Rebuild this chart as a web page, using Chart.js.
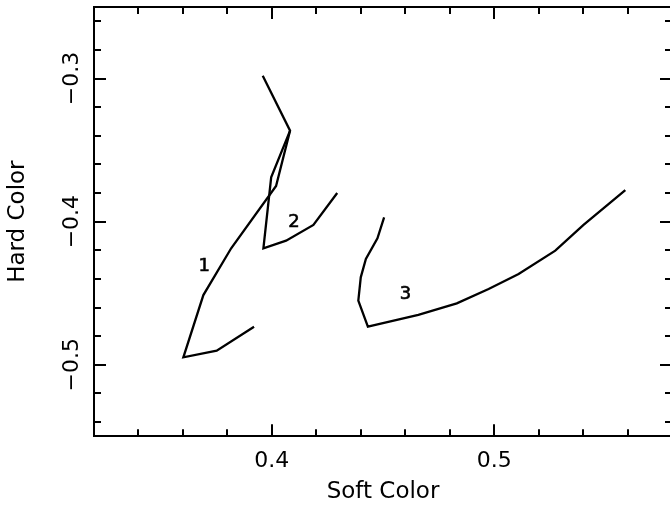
<!DOCTYPE html>
<html>
<head>
<meta charset="utf-8">
<script src="https://cdn.jsdelivr.net/npm/chart.js@4"></script>
<style>
  html, body { margin: 0; padding: 0; overflow: hidden; background: #fff; }
  #wrap { position: relative; width: 676px; height: 506px; }
</style>
</head>
<body>
<div id="wrap"><canvas id="c"></canvas></div>
<script>
// ---- axis texts and ticks ----
const xTitle = 'Soft Color';
const yTitle = 'Hard Color';
const xRange = [0.32, 0.58];
const yRange = [-0.55, -0.25];
const xMajorTicks = [0.4, 0.5];
const xMajorLabels = ['0.4', '0.5'];
const yMajorTicks = [-0.5, -0.4, -0.3];
const yMajorLabels = ['\u22120.5', '\u22120.4', '\u22120.3'];
const xMinorTicks = [0.34, 0.36, 0.38, 0.42, 0.44, 0.46, 0.48, 0.52, 0.54, 0.56];
const yMinorTicks = [-0.54, -0.52, -0.48, -0.46, -0.44, -0.42, -0.38, -0.36, -0.34, -0.32, -0.28, -0.26];

// ---- tracks (Soft Color, Hard Color) ----
const track1X = [0.3920, 0.3752, 0.3602, 0.3692, 0.3817, 0.4019, 0.4082, 0.3959];
const track1Y = [-0.4734, -0.4902, -0.4948, -0.4513, -0.4186, -0.3751, -0.3364, -0.2980];
const track2X = [0.4082, 0.3997, 0.3962, 0.4064, 0.4187, 0.4294];
const track2Y = [-0.3364, -0.3690, -0.4186, -0.4133, -0.4023, -0.3800];
const track3X = [0.4505, 0.4475, 0.4423, 0.4400, 0.4389, 0.4432, 0.4659, 0.4832, 0.4975, 0.5110, 0.5275, 0.5402, 0.5590];
const track3Y = [-0.3970, -0.4116, -0.4261, -0.4389, -0.4552, -0.4734, -0.4652, -0.4571, -0.4471, -0.4366, -0.4203, -0.4023, -0.3779];

// ---- track labels ----
const trackNames = ['1', '2', '3'];
const trackLabelX = [0.3696, 0.4100, 0.4601];
const trackLabelY = [-0.4310, -0.4007, -0.4508];

const FONT = '"DejaVu Sans", "Liberation Sans", sans-serif';
Chart.defaults.font.family = FONT;
Chart.defaults.color = '#000';

const pts = (xs, ys) => xs.map((v, i) => ({ x: v, y: ys[i] }));
const setTicks = vals => s => { s.ticks = vals.map(v => ({ value: v })); };
const fix = (w, h) => s => {
  if (w !== null) s.width = w;
  if (h !== null) s.height = h;
  s.paddingTop = 0; s.paddingBottom = 0; s.paddingLeft = 0; s.paddingRight = 0;
};

const gridMajor = { drawOnChartArea: false, drawTicks: true, tickLength: -12, color: '#000', lineWidth: 2, tickWidth: 2 };
const gridMinor = { drawOnChartArea: false, drawTicks: true, tickLength: -7, color: '#000', lineWidth: 2, tickWidth: 2 };
const borderOn = { display: true, width: 2, color: '#000' };
const borderOff = { display: false };

const lineDs = (data) => ({
  data, showLine: true, borderColor: '#000', borderWidth: 2.3, pointRadius: 0,
  pointHoverRadius: 0, fill: false, tension: 0, xAxisID: 'x', yAxisID: 'y'
});

const trackLabels = {
  id: 'trackLabels',
  afterDatasetsDraw(chart) {
    const { ctx } = chart;
    const xs = chart.scales.x, ys = chart.scales.y;
    ctx.save();
    ctx.font = '18px ' + FONT;
    ctx.fillStyle = '#000';
    ctx.strokeStyle = '#000';
    ctx.lineWidth = 0.6;
    ctx.textAlign = 'center';
    ctx.textBaseline = 'middle';
    trackNames.forEach((t, i) => {
      const px = xs.getPixelForValue(trackLabelX[i]);
      const py = ys.getPixelForValue(trackLabelY[i]);
      ctx.fillText(t, px, py);
      ctx.strokeText(t, px, py);
    });
    ctx.restore();
  }
};

new Chart(document.getElementById('c'), {
  type: 'scatter',
  data: {
    datasets: [
      lineDs(pts(track1X, track1Y)),
      lineDs(pts(track2X, track2Y)),
      lineDs(pts(track3X, track3Y))
    ]
  },
  options: {
    responsive: true,
    maintainAspectRatio: false,
    animation: false,
    layout: { padding: 0 },
    plugins: { legend: { display: false }, tooltip: { enabled: false } },
    scales: {
      x: {
        type: 'linear', axis: 'x', position: 'bottom', weight: 0,
        min: xRange[0], max: xRange[1],
        afterBuildTicks: setTicks(xMajorTicks),
        afterFit: fix(null, 69.7),
        border: borderOn, grid: gridMajor,
        ticks: { autoSkip: false, padding: 23.3, font: { size: 22 }, color: '#000',
                 callback: (v, i) => xMajorLabels[i] },
        title: { display: true, text: xTitle, color: '#000', font: { size: 23 },
                 padding: { top: 0, bottom: 0.5 } }
      },
      xMinor: {
        type: 'linear', axis: 'x', position: 'bottom', weight: -10,
        min: xRange[0], max: xRange[1],
        afterBuildTicks: setTicks(xMinorTicks),
        afterFit: fix(null, 0),
        border: borderOff, grid: gridMinor, ticks: { display: false }
      },
      xTop: {
        type: 'linear', axis: 'x', position: 'top', weight: 0,
        min: xRange[0], max: xRange[1],
        afterBuildTicks: setTicks(xMajorTicks),
        afterFit: fix(null, 7),
        border: borderOn, grid: gridMajor, ticks: { display: false }
      },
      xTopMinor: {
        type: 'linear', axis: 'x', position: 'top', weight: -10,
        min: xRange[0], max: xRange[1],
        afterBuildTicks: setTicks(xMinorTicks),
        afterFit: fix(null, 0),
        border: borderOff, grid: gridMinor, ticks: { display: false }
      },
      y: {
        type: 'linear', axis: 'y', position: 'left', weight: 0,
        min: yRange[0], max: yRange[1],
        afterBuildTicks: setTicks(yMajorTicks),
        afterFit: fix(94, null),
        border: borderOn, grid: gridMajor,
        ticks: { autoSkip: false, minRotation: 90, maxRotation: 90, crossAlign: 'center',
                 padding: 7, font: { size: 22 }, color: '#000',
                 callback: (v, i) => yMajorLabels[i] },
        title: { display: true, text: yTitle, color: '#000', font: { size: 23 },
                 padding: { top: 4.5, bottom: 0 } }
      },
      yMinor: {
        type: 'linear', axis: 'y', position: 'left', weight: -10,
        min: yRange[0], max: yRange[1],
        afterBuildTicks: setTicks(yMinorTicks),
        afterFit: fix(0, null),
        border: borderOff, grid: gridMinor, ticks: { display: false }
      },
      yRight: {
        type: 'linear', axis: 'y', position: 'right', weight: 0,
        min: yRange[0], max: yRange[1],
        afterBuildTicks: setTicks(yMajorTicks),
        afterFit: fix(4, null),
        border: borderOn, grid: gridMajor, ticks: { display: false }
      },
      yRightMinor: {
        type: 'linear', axis: 'y', position: 'right', weight: -10,
        min: yRange[0], max: yRange[1],
        afterBuildTicks: setTicks(yMinorTicks),
        afterFit: fix(0, null),
        border: borderOff, grid: gridMinor, ticks: { display: false }
      }
    }
  },
  plugins: [trackLabels]
});
</script>
</body>
</html>
